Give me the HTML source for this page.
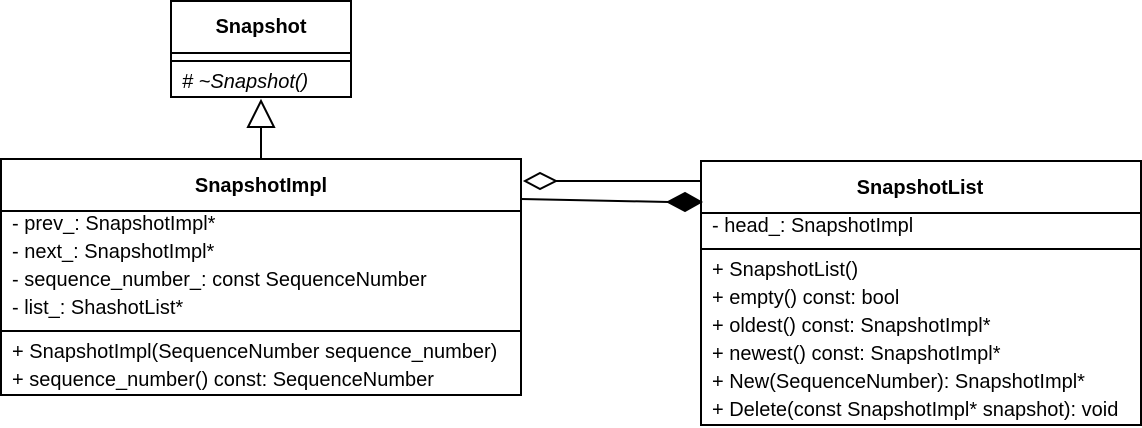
<!DOCTYPE html>
<html><head><style>body{margin:0;background:#fff}svg{display:block}</style></head><body>
<svg width="1142" height="428" xmlns="http://www.w3.org/2000/svg" font-family="Liberation Sans, Arial, sans-serif" font-size="20">
<g fill="none" stroke="#000" stroke-width="2">
<rect x="171" y="1" width="180" height="96"/>
<line x1="171" y1="53" x2="351" y2="53"/>
<line x1="171" y1="61" x2="351" y2="61"/>
<rect x="1" y="159" width="520" height="236"/>
<line x1="1" y1="211" x2="521" y2="211"/>
<line x1="1" y1="331" x2="521" y2="331"/>
<rect x="701" y="161" width="440" height="264"/>
<line x1="701" y1="213" x2="1141" y2="213"/>
<line x1="701" y1="249" x2="1141" y2="249"/>
<line x1="261" y1="127" x2="261" y2="159"/>
<polygon points="261,101 248,127 274,127" fill="#fff"/>
<line x1="556" y1="181" x2="701" y2="181"/>
<polygon points="525,181 540,173 556,181 540,189" fill="#fff"/>
<line x1="521" y1="199" x2="669" y2="202"/>
<polygon points="668,202 685,193 701,202 685,211" fill="#000"/>
</g>
<g fill="#000">
<text x="261" y="33" text-anchor="middle" font-weight="bold">Snapshot</text>
<text x="182" y="88" font-style="italic"># ~Snapshot()</text>
<text x="261" y="192" text-anchor="middle" font-weight="bold">SnapshotImpl</text>
<text x="12" y="230">- prev_: SnapshotImpl*</text>
<text x="12" y="258">- next_: SnapshotImpl*</text>
<text x="12" y="286">- sequence_number_: const SequenceNumber</text>
<text x="12" y="314">- list_: ShashotList*</text>
<text x="12" y="358">+ SnapshotImpl(SequenceNumber sequence_number)</text>
<text x="12" y="386">+ sequence_number() const: SequenceNumber</text>
<text x="920" y="194" text-anchor="middle" font-weight="bold">SnapshotList</text>
<text x="712" y="232">- head_: SnapshotImpl</text>
<text x="712" y="276">+ SnapshotList()</text>
<text x="712" y="304">+ empty() const: bool</text>
<text x="712" y="332">+ oldest() const: SnapshotImpl*</text>
<text x="712" y="360">+ newest() const: SnapshotImpl*</text>
<text x="712" y="388">+ New(SequenceNumber): SnapshotImpl*</text>
<text x="712" y="416">+ Delete(const SnapshotImpl* snapshot): void</text>
</g>
</svg>
</body></html>
